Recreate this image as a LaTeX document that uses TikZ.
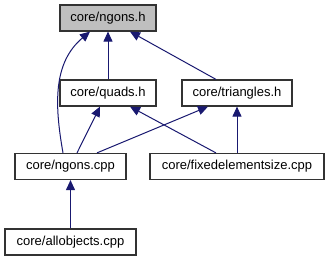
\documentclass[tikz,border=0pt]{standalone}
\usepackage{fontspec}
\setmainfont{Liberation Sans}
\usetikzlibrary{arrows.meta}

\definecolor{edgeblue}{HTML}{191970}
\definecolor{nodegray}{HTML}{BFBFBF}

\tikzset{
  file/.style={rectangle, draw=black!80, line width=1.2pt, inner sep=0pt,
    minimum height=26pt, font=\fontsize{13}{15}\selectfont},
  inc/.style={draw=edgeblue, line width=1pt,
    -{Triangle[length=10pt, width=9pt, fill=edgeblue]}}
}

\begin{document}
\begin{tikzpicture}[x=1pt, y=-1pt]
				\useasboundingbox (0,0) rectangle (330,261);

				% Header files
				\node[file, fill=nodegray, minimum width=96pt] (ngh) at (108,18) {core/ngons.h};
				\node[file, minimum width=96pt] (quads) at (108,93) {core/quads.h};
				\node[file, minimum width=110pt] (tri) at (237,93) {core/triangles.h};

				% Source files
				\node[file, minimum width=111pt] (ngcpp) at (70.5,166.5) {core/ngons.cpp};
				\node[file, minimum width=174pt] (fes) at (237,166.5) {core/fixedelementsize.cpp};
				\node[file, minimum width=131pt] (all) at (70.5,242) {core/allobjects.cpp};

				% Include connections
				\draw[inc] ([xshift=-7.5pt]ngcpp.north) to[out=100, in=220] ([xshift=-18pt]ngh.south);
				\draw[inc] (quads.north) -- (ngh.south);
				\draw[inc] ([xshift=-21pt]tri.north) -- ([xshift=22pt]ngh.south);
				\draw[inc] ([xshift=6.5pt]ngcpp.north) -- ([xshift=-8pt]quads.south);
				\draw[inc] ([xshift=26.5pt]ngcpp.north) -- ([xshift=-29pt]tri.south);
				\draw[inc] ([xshift=-21pt]fes.north) -- ([xshift=22pt]quads.south);
				\draw[inc] (fes.north) -- (tri.south);
				\draw[inc] (all.north) -- (ngcpp.south);

			\end{tikzpicture}
\end{document}
